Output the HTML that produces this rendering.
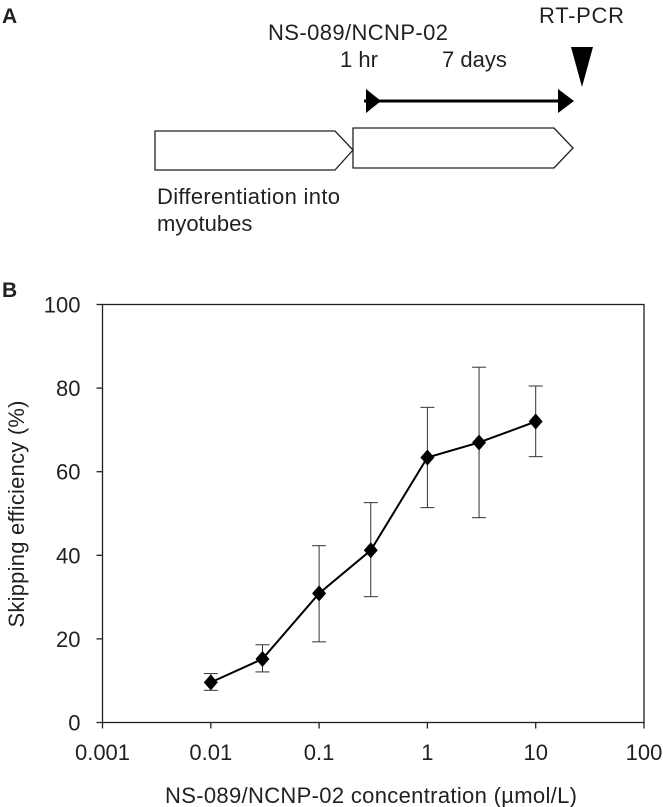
<!DOCTYPE html>
<html><head><meta charset="utf-8"><style>
html,body{margin:0;padding:0;background:#fff;}
svg{display:block;font-family:"Liberation Sans",Arial,sans-serif;}
</style></head><body>
<svg id="fig" width="663" height="807" viewBox="0 0 663 807" xmlns="http://www.w3.org/2000/svg">
<g>
<text x="2" y="23" font-size="21" font-weight="bold" fill="#231f20">A</text>
<text x="268" y="40" font-size="22" fill="#231f20" textLength="180">NS-089/NCNP-02</text>
<text x="340" y="67" font-size="22" fill="#231f20">1 hr</text>
<text x="442" y="67" font-size="22" fill="#231f20">7 days</text>
<text x="539" y="23" font-size="22" fill="#231f20" textLength="85">RT-PCR</text>
<polygon points="571,47 593,47 582,87" fill="#000"/>
<line x1="364" y1="101" x2="560" y2="101" stroke="#000" stroke-width="3"/>
<polygon points="366,89 381,101 366,113" fill="#000"/>
<polygon points="558,89 574,101 558,113" fill="#000"/>
<polygon points="155,131 335,131 353,150 335,170 155,170" fill="#fff" stroke="#231f20" stroke-width="1.3"/>
<polygon points="353,128 554,128 573,148 554,168 353,168" fill="#fff" stroke="#231f20" stroke-width="1.3"/>
<text x="157" y="204" font-size="22" fill="#231f20" textLength="183">Differentiation into</text>
<text x="157" y="231" font-size="22" fill="#231f20">myotubes</text>
</g>
<text x="2" y="297" font-size="21" font-weight="bold" fill="#231f20">B</text>
<g id="chart"></g>
</svg>
<script>
const concentrations = [0.01, 0.03, 0.1, 0.3, 1, 3, 10];
const efficiency = [9.6, 15.2, 30.9, 41.2, 63.4, 67.0, 72.0];
const errUpper = [11.7, 18.6, 42.3, 52.6, 75.4, 85.0, 80.5];
const errLower = [7.7, 12.1, 19.3, 30.1, 51.4, 49.0, 63.6];
const xTicks = [0.001, 0.01, 0.1, 1, 10, 100];
const xTickLabels = ["0.001", "0.01", "0.1", "1", "10", "100"];
const yTicks = [0, 20, 40, 60, 80, 100];

const NS = "http://www.w3.org/2000/svg";
const L = 102.5, R = 644, T = 304.5, B = 722.5;
function xs(v){ return L + (Math.log10(v) - Math.log10(0.001)) / 5 * (R - L); }
function ys(v){ return B - v / 100 * (B - T); }
const g = document.getElementById("chart");
function mk(tag, attrs){ const e = document.createElementNS(NS, tag); for (const k in attrs) e.setAttribute(k, attrs[k]); g.appendChild(e); return e; }

let frame = mk("rect", {x:L, y:T, width:R-L, height:B-T, fill:"none", stroke:"#231f20", "stroke-width":1.3});



yTicks.forEach(v => {
  const t = mk("line", {x1:L-6, x2:L, y1:ys(v), y2:ys(v), stroke:"#231f20", "stroke-width":1.3});
  
  
  const lb = mk("text", {x:L-22, y:ys(v)+8, "text-anchor":"end", "font-size":22, fill:"#231f20"});
  lb.textContent = String(v);
  
  
});
xTicks.forEach((v, i) => {
  const t = mk("line", {x1:xs(v), x2:xs(v), y1:B, y2:B+6, stroke:"#231f20", "stroke-width":1.3});
  
  
  const lb = mk("text", {x:xs(v), y:760, "text-anchor":"middle", "font-size":22, fill:"#231f20"});
  lb.textContent = xTickLabels[i];
  
  
});

concentrations.forEach((c, i) => {
  const x = xs(c);
  const e = mk("line", {x1:x, x2:x, y1:ys(errUpper[i]), y2:ys(errLower[i]), stroke:"#333", "stroke-width":1});
  
  
  [errUpper[i], errLower[i]].forEach(v => {
    const c2 = mk("line", {x1:x-7, x2:x+7, y1:ys(v), y2:ys(v), stroke:"#333", "stroke-width":1});
    
    
  });
});
const pl = mk("polyline", {points: concentrations.map((c,i)=>xs(c)+","+ys(efficiency[i])).join(" "), fill:"none", stroke:"#000", "stroke-width":2});


concentrations.forEach((c, i) => {
  const x = xs(c), y = ys(efficiency[i]);
  const d = mk("polygon", {points:`${x},${y-8} ${x+7},${y} ${x},${y+8} ${x-7},${y}`, fill:"#000"});
  
  
});

const yt = mk("text", {x:0, y:0, transform:"translate(24,514) rotate(-90)", "text-anchor":"middle", "font-size":22, fill:"#231f20", textLength:"227"});
yt.textContent = "Skipping efficiency (%)";


const xt = mk("text", {x:371, y:803, "text-anchor":"middle", "font-size":22, fill:"#231f20", textLength:"412"});
xt.textContent = "NS-089/NCNP-02 concentration (µmol/L)";


</script>
</body></html>
